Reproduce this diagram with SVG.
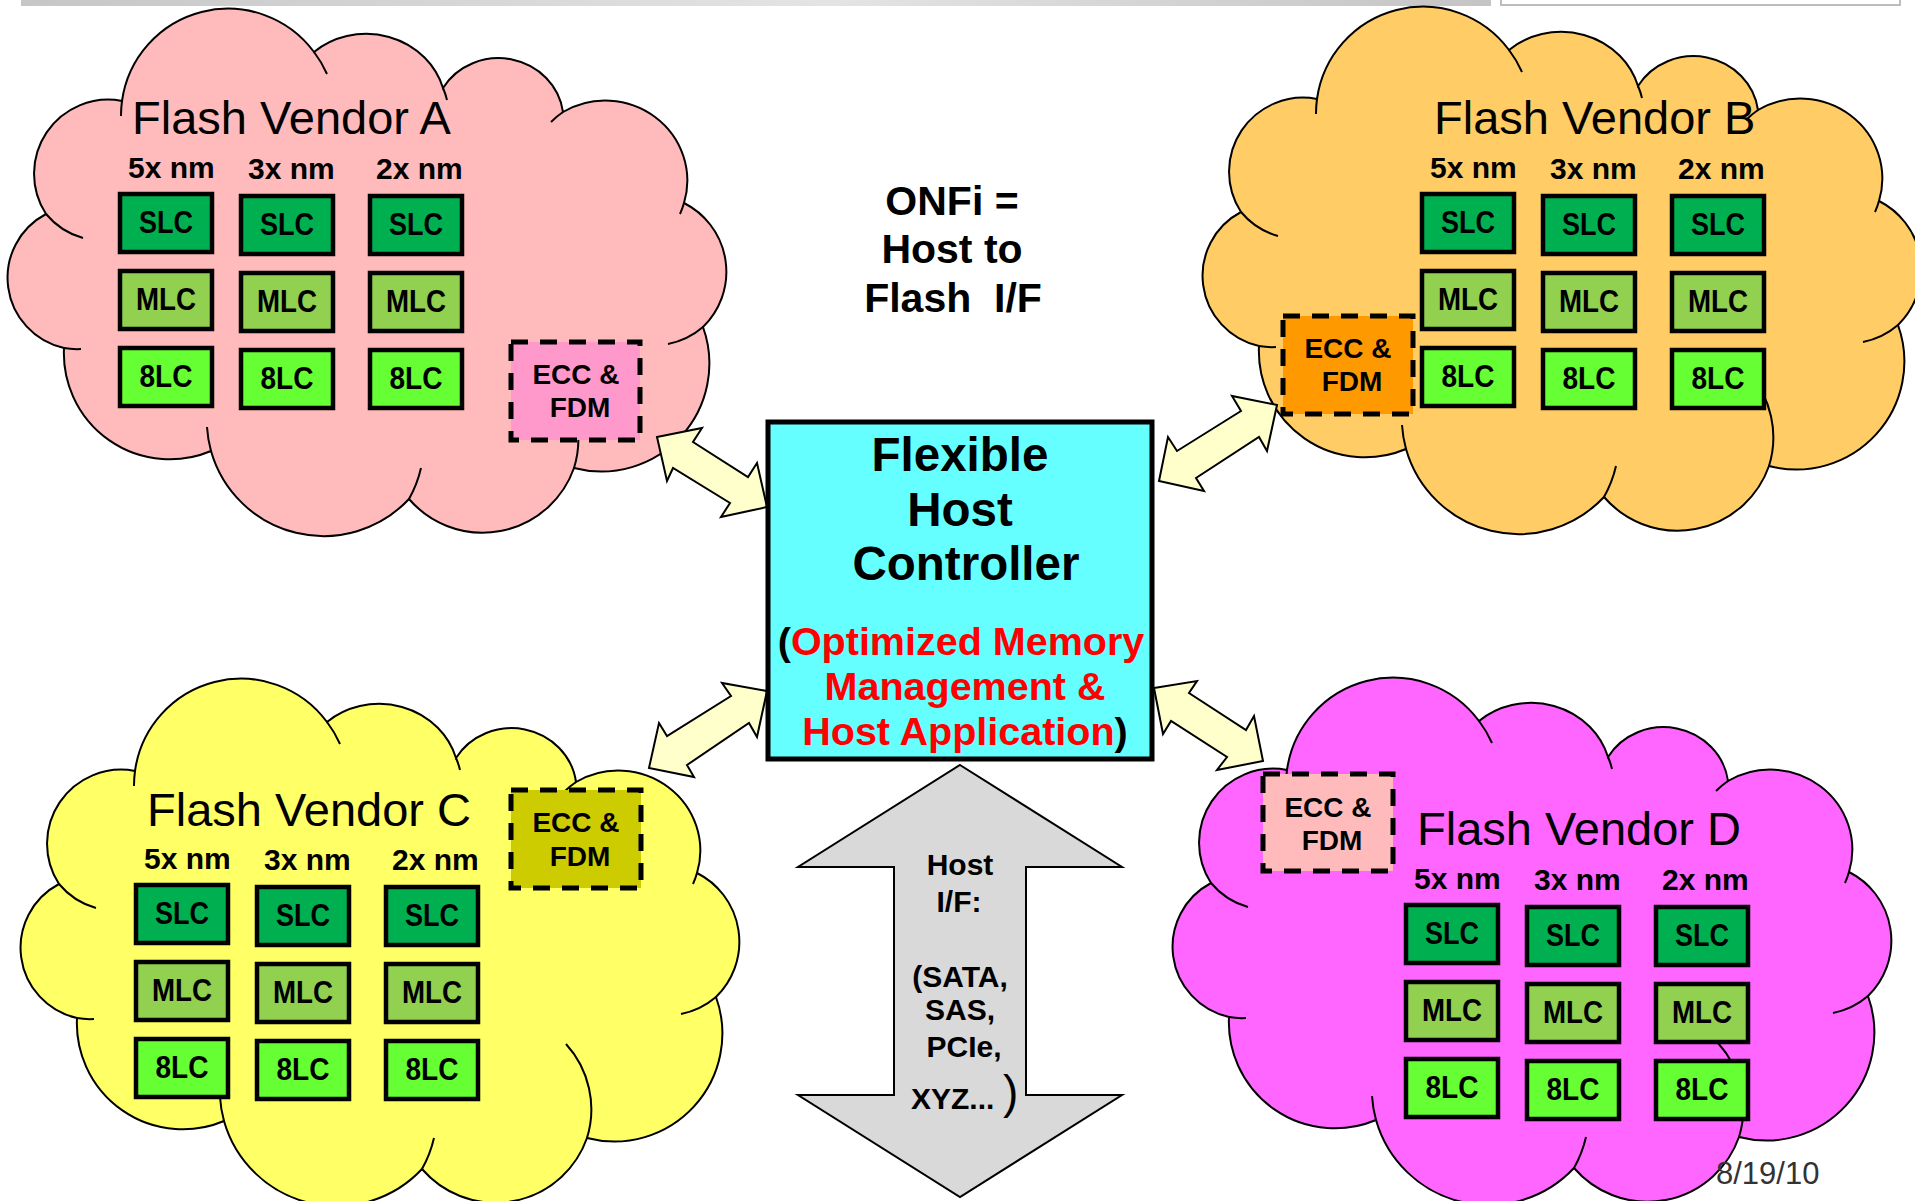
<svg xmlns="http://www.w3.org/2000/svg" xmlns:xlink="http://www.w3.org/1999/xlink" width="1915" height="1201" viewBox="0 0 1915 1201">
  <style>
    text { font-family: "Liberation Sans", Arial, sans-serif; fill: #000; }
    .cloud { stroke: #000; stroke-width: 2; }
    .fold { fill: none; stroke: #000; stroke-width: 2; }
    .cell { stroke: #000; stroke-width: 4.5; }
    .slc { fill: #00B050; }
    .mlc { fill: #92D050; }
    .lc8 { fill: #66FF33; }
    .ecc { stroke: #000; stroke-width: 5; stroke-dasharray: 17 12; }
    .title { font-size: 47px; }
    .nm { font-size: 30px; font-weight: bold; }
    .lbl { font-size: 28px; font-weight: bold; text-anchor: middle; }
    .cl { font-size: 31px; font-weight: bold; text-anchor: middle; }
    .link { fill: #FFFFCC; stroke: #000; stroke-width: 2; stroke-linejoin: miter; }
    .big { font-size: 47.5px; font-weight: bold; text-anchor: middle; }
    .red { font-size: 39.5px; font-weight: bold; text-anchor: middle; }
    .hot { fill: #FF0000; }
    .onfi { font-size: 41px; font-weight: bold; text-anchor: middle; }
    .hif { font-size: 30px; font-weight: bold; text-anchor: middle; }
    .date { font-size: 31px; fill: #333; }
  </style>
  <defs>
    <linearGradient id="barGrad" x1="0" y1="0" x2="1" y2="0">
      <stop offset="0" stop-color="#c6c6c6"/>
      <stop offset="0.55" stop-color="#e4e4e4"/>
      <stop offset="1" stop-color="#c4c4c4"/>
    </linearGradient>
    <!-- cloud outline, drawn in the frame of the top-left cloud -->
    <path id="cloudShape" d="M46,214 A74,74 0 0 1 122,101 A107,107 0 0 1 314,52 A80,75 0 0 1 443,88 A65,62 0 0 1 563,112 A82,80 0 0 1 684,203 A77,77 0 0 1 703,327 A108,108 0 0 1 574,468 A97,97 0 0 1 409,499 A117,117 0 0 1 211,451 A106,106 0 0 1 64,348 A72,72 0 0 1 46,214 Z"/>
    <!-- interior fold lines of the cloud -->
    <path id="cloudFolds" d="M122,101 A107,107 0 0 0 121,116 M314,52 A107,107 0 0 1 327,74 M443,88 A80,75 0 0 1 447,100 M563,112 A82,82 0 0 0 551,122 M684,203 A82,82 0 0 1 680,214 M703,327 A77,77 0 0 1 668,344 M574,468 A97,97 0 0 0 553,374 M409,499 A117,117 0 0 0 421,468 M211,451 A117,117 0 0 1 207,427 M64,348 A72,72 0 0 0 81,349 M46,214 A74,74 0 0 0 83,238"/>
    <!-- 3x3 grid of cell types by process node -->
    <g id="cellGrid">
      <text class="nm" x="128" y="178">5x nm</text>
      <text class="nm" x="248" y="179">3x nm</text>
      <text class="nm" x="376" y="179">2x nm</text>
      <rect class="cell slc" x="120" y="194" width="92" height="58"/>
      <rect class="cell slc" x="241" y="196" width="92" height="58"/>
      <rect class="cell slc" x="370" y="196" width="92" height="58"/>
      <rect class="cell mlc" x="120" y="271" width="92" height="58"/>
      <rect class="cell mlc" x="241" y="273" width="92" height="58"/>
      <rect class="cell mlc" x="370" y="273" width="92" height="58"/>
      <rect class="cell lc8" x="120" y="348" width="92" height="58"/>
      <rect class="cell lc8" x="241" y="350" width="92" height="58"/>
      <rect class="cell lc8" x="370" y="350" width="92" height="58"/>
      <text class="cl" x="166" y="233" textLength="54" lengthAdjust="spacingAndGlyphs">SLC</text>
      <text class="cl" x="287" y="235" textLength="54" lengthAdjust="spacingAndGlyphs">SLC</text>
      <text class="cl" x="416" y="235" textLength="54" lengthAdjust="spacingAndGlyphs">SLC</text>
      <text class="cl" x="166" y="310" textLength="60" lengthAdjust="spacingAndGlyphs">MLC</text>
      <text class="cl" x="287" y="312" textLength="60" lengthAdjust="spacingAndGlyphs">MLC</text>
      <text class="cl" x="416" y="312" textLength="60" lengthAdjust="spacingAndGlyphs">MLC</text>
      <text class="cl" x="166" y="387" textLength="53" lengthAdjust="spacingAndGlyphs">8LC</text>
      <text class="cl" x="287" y="389" textLength="53" lengthAdjust="spacingAndGlyphs">8LC</text>
      <text class="cl" x="416" y="389" textLength="53" lengthAdjust="spacingAndGlyphs">8LC</text>
    </g>
  </defs>

  <!-- page header strip -->
  <rect x="21" y="0" width="1470" height="6" fill="url(#barGrad)"/>
  <rect x="1501" y="-2" width="399" height="7" fill="#fff" stroke="#bdbdbd" stroke-width="2"/>

  <g id="vendor-a">
    <use xlink:href="#cloudShape" class="cloud" fill="#FFBBBB"/>
    <use xlink:href="#cloudFolds" class="fold"/>
    <text class="title" x="132" y="134">Flash Vendor A</text>
    <use xlink:href="#cellGrid"/>
    <rect class="ecc" x="511" y="342" width="129" height="98" fill="#FF99CC"/>
    <text class="lbl" x="576" y="384">ECC &amp;</text>
    <text class="lbl" x="580" y="417">FDM</text>
  </g>

  <g id="vendor-b">
    <use xlink:href="#cloudShape" class="cloud" fill="#FFCC66" transform="translate(1195,-2)"/>
    <use xlink:href="#cloudFolds" class="fold" transform="translate(1195,-2)"/>
    <text class="title" x="1434" y="134">Flash Vendor B</text>
    <use xlink:href="#cellGrid" transform="translate(1302,0)"/>
    <rect class="ecc" x="1283" y="316" width="130" height="98" fill="#FF9900"/>
    <text class="lbl" x="1348" y="358">ECC &amp;</text>
    <text class="lbl" x="1352" y="391">FDM</text>
  </g>

  <g id="vendor-c">
    <use xlink:href="#cloudShape" class="cloud" fill="#FFFF66" transform="translate(13,670)"/>
    <use xlink:href="#cloudFolds" class="fold" transform="translate(13,670)"/>
    <text class="title" x="147" y="826">Flash Vendor C</text>
    <use xlink:href="#cellGrid" transform="translate(16,691)"/>
    <rect class="ecc" x="511" y="790" width="130" height="98" fill="#CCCC00"/>
    <text class="lbl" x="576" y="832">ECC &amp;</text>
    <text class="lbl" x="580" y="866">FDM</text>
  </g>

  <g id="vendor-d">
    <use xlink:href="#cloudShape" class="cloud" fill="#FF66FF" transform="translate(1165,669)"/>
    <use xlink:href="#cloudFolds" class="fold" transform="translate(1165,669)"/>
    <text class="title" x="1417" y="845">Flash Vendor D</text>
    <use xlink:href="#cellGrid" transform="translate(1286,711)"/>
    <rect class="ecc" x="1263" y="774" width="130" height="97" fill="#FFBBBB"/>
    <text class="lbl" x="1328" y="817">ECC &amp;</text>
    <text class="lbl" x="1332" y="850">FDM</text>
  </g>

  <!-- two-way links between the controller and each vendor -->
  <g id="links">
    <polygon class="link" points="657,437 702,428 693,442 748,477 757,463 767,507 721,517 730,503 673,468 667,481"/>
    <polygon class="link" points="1159,481 1168,437 1177,451 1241,411 1232,396 1277,405 1267,451 1259,437 1196,478 1204,491"/>
    <polygon class="link" points="649,768 659,723 667,736 731,696 722,683 767,691 757,737 749,723 687,765 694,777"/>
    <polygon class="link" points="1154,688 1197,681 1189,693 1246,730 1254,716 1263,761 1217,770 1227,757 1171,721 1163,734"/>
  </g>

  <g id="controller">
    <rect x="768" y="422" width="384" height="337" fill="#66FFFF" stroke="#000" stroke-width="5"/>
    <text class="big" x="960" y="471">Flexible</text>
    <text class="big" x="960" y="526">Host</text>
    <text class="big" x="966" y="580">Controller</text>
    <text class="red" x="961" y="655"><tspan>(</tspan><tspan class="hot">Optimized Memory</tspan></text>
    <text class="red hot" x="965" y="700">Management &amp;</text>
    <text class="red" x="965" y="745"><tspan class="hot">Host Application</tspan><tspan>)</tspan></text>
  </g>

  <g id="onfi-note">
    <text class="onfi" x="952" y="215">ONFi =</text>
    <text class="onfi" x="952" y="263">Host to</text>
    <text class="onfi" x="953" y="312" xml:space="preserve">Flash  I/F</text>
  </g>

  <g id="host-interface">
    <polygon points="960,765 1122,867 1026,867 1026,1095 1122,1095 960,1197 798,1095 894,1095 894,867 798,867" fill="#D9D9D9" stroke="#000" stroke-width="2"/>
    <text class="hif" x="960" y="875">Host</text>
    <text class="hif" x="959" y="912">I/F:</text>
    <text class="hif" x="960" y="987">(SATA,</text>
    <text class="hif" x="960" y="1020">SAS,</text>
    <text class="hif" x="964" y="1057">PCIe,</text>
    <text class="hif" x="911" y="1109" style="text-anchor:start">XYZ...</text>
    <text x="1003" y="1108" style="font-size:46px">)</text>
  </g>

  <text id="date" class="date" x="1716" y="1184">8/19/10</text>
</svg>
